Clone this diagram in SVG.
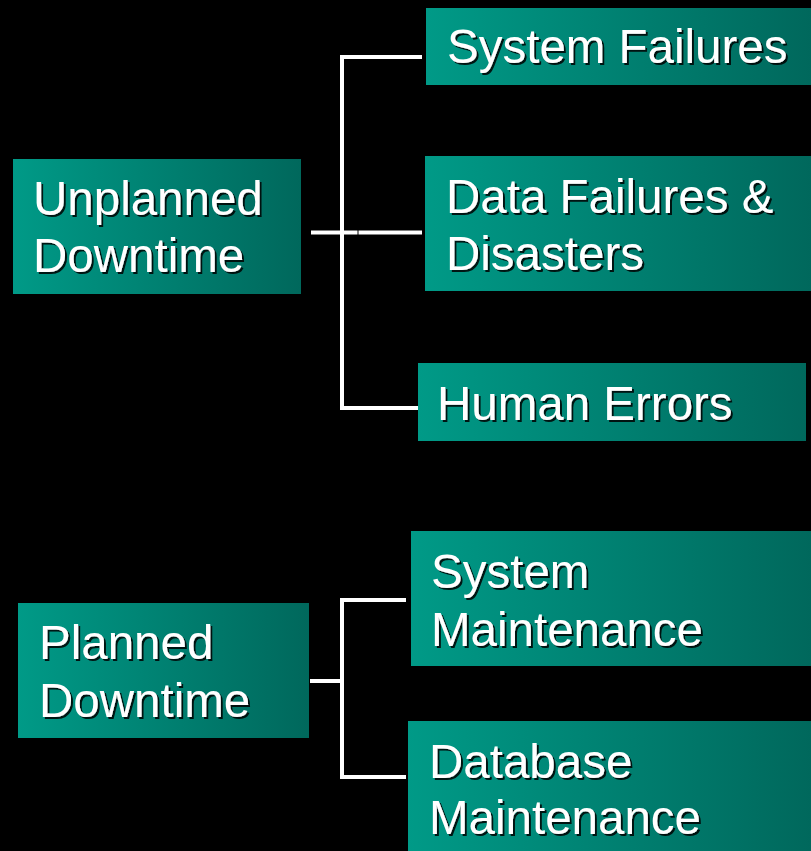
<svg xmlns="http://www.w3.org/2000/svg" width="811" height="851" viewBox="0 0 811 851">
<defs>
<linearGradient id="g" x1="0" y1="0" x2="1" y2="0">
<stop offset="0" stop-color="#009a87"/>
<stop offset="1" stop-color="#00685c"/>
</linearGradient>
<filter id="sh" x="-5%" y="-20%" width="115%" height="150%">
<feOffset in="SourceAlpha" dx="2" dy="2" result="o"/>
<feFlood flood-color="#000" flood-opacity="0.85"/>
<feComposite in2="o" operator="in" result="s"/>
<feMerge><feMergeNode in="s"/><feMergeNode in="SourceGraphic"/></feMerge>
</filter>
</defs>
<style>
.box{fill:url(#g)}
.t{font-family:"Liberation Sans",Arial,sans-serif;font-size:47.5px;fill:#fff;filter:url(#sh)}
.c{stroke:#fff;stroke-width:4;fill:none}
</style>
<rect width="811" height="851" fill="#000"/>
<g id="connectors">
<polyline class="c" points="422,57 342,57 342,408 422,408"/>
<line class="c" x1="311" y1="232.5" x2="357.5" y2="232.5"/>
<line class="c" x1="358.5" y1="232.5" x2="422" y2="232.5"/>
<polyline class="c" points="406,600 342,600 342,777 406,777"/>
<line class="c" x1="310" y1="681" x2="342" y2="681"/>
</g>
<g id="unplanned">
<rect class="box" x="13" y="159" width="288" height="135"/>
<text class="t" x="33" y="215">Unplanned</text>
<text class="t" x="33" y="272">Downtime</text>
</g>
<g id="system-failures">
<rect class="box" x="426" y="8" width="385" height="77"/>
<text class="t" x="447" y="63">System Failures</text>
</g>
<g id="data-failures">
<rect class="box" x="425" y="156" width="386" height="135"/>
<text class="t" x="446" y="213">Data Failures &amp;</text>
<text class="t" x="446" y="270">Disasters</text>
</g>
<g id="human-errors">
<rect class="box" x="418" y="363" width="388" height="78"/>
<text class="t" x="437" y="420">Human Errors</text>
</g>
<g id="planned">
<rect class="box" x="18" y="603" width="291" height="135"/>
<text class="t" x="39" y="659">Planned</text>
<text class="t" x="39" y="717">Downtime</text>
</g>
<g id="system-maintenance">
<rect class="box" x="411" y="531" width="400" height="135"/>
<text class="t" x="431" y="588">System</text>
<text class="t" x="431" y="646">Maintenance</text>
</g>
<g id="database-maintenance">
<rect class="box" x="408" y="721" width="403" height="130"/>
<text class="t" x="429" y="778">Database</text>
<text class="t" x="429" y="834">Maintenance</text>
</g>
</svg>
